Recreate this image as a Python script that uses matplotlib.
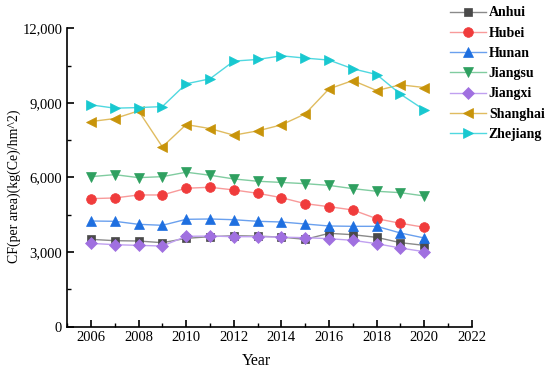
import matplotlib
matplotlib.use("Agg")
import matplotlib.pyplot as plt
from matplotlib.ticker import MultipleLocator, FuncFormatter

plt.rcParams['font.family'] = ['Liberation Serif', 'DejaVu Serif']

years = list(range(2006, 2021))
anhui = [3510, 3457, 3443, 3376, 3550, 3617, 3657, 3640, 3600, 3510, 3752, 3698, 3590, 3376, 3268]
hubei = [5147, 5175, 5295, 5295, 5565, 5605, 5497, 5363, 5187, 4945, 4824, 4691, 4341, 4156, 3995]
hunan = [4248, 4236, 4115, 4075, 4316, 4329, 4300, 4236, 4208, 4128, 4047, 4034, 4034, 3765, 3564]
jiangsu = [6032, 6113, 5992, 6032, 6210, 6089, 5940, 5847, 5800, 5750, 5680, 5550, 5444, 5388, 5255]
jiangxi = [3349, 3295, 3268, 3242, 3631, 3644, 3617, 3617, 3600, 3577, 3537, 3470, 3336, 3161, 3013]
shanghai = [8248, 8369, 8678, 7229, 8127, 7966, 7700, 7873, 8114, 8557, 9564, 9898, 9496, 9725, 9617]
zhejiang = [8920, 8786, 8810, 8850, 9766, 9967, 10680, 10745, 10893, 10800, 10720, 10370, 10140, 9350, 8718]

names = ["Anhui", "Hubei", "Hunan", "Jiangsu", "Jiangxi", "Shanghai", "Zhejiang"]
data = [anhui, hubei, hunan, jiangsu, jiangxi, shanghai, zhejiang]
mcolors = ["#4a4a4a", "#f03c3c", "#1e6fe0", "#2fa060", "#a070e0", "#c8940a", "#18c8d0"]
lcolors = ["#8a8a8a", "#f89a9a", "#6aa0ee", "#80cca0", "#c0a0f0", "#e0bc60", "#50d8e0"]
markers = ["s", "o", "^", "v", "D", "<", ">"]
msizes = [6, 7, 7, 7, 6, 7.5, 7.5]

fig = plt.figure(figsize=(5.5, 3.72), dpi=100)
ax = fig.add_axes([0.122, 0.122, 0.736, 0.802])

for n, d, mc, lc, m, ms in zip(names, data, mcolors, lcolors, markers, msizes):
    ax.plot(years, d, color=lc, lw=1.0, marker=m, markersize=ms,
            markerfacecolor=mc, markeredgecolor=mc, markeredgewidth=0.5, label=n)

ax.set_xlim(2005, 2022)
ax.set_ylim(0, 12000)
ax.xaxis.set_major_locator(MultipleLocator(2))
ax.xaxis.set_minor_locator(MultipleLocator(1))
ax.yaxis.set_major_locator(MultipleLocator(3000))
ax.yaxis.set_minor_locator(MultipleLocator(1500))
ax.yaxis.set_major_formatter(FuncFormatter(lambda v, p: f"{int(v):,}"))
ax.set_xticks(range(2006, 2023, 2))
ax.spines['top'].set_visible(False)
ax.spines['right'].set_visible(False)
for s in ['left', 'bottom']:
    ax.spines[s].set_linewidth(1.2)
ax.tick_params(which='major', direction='in', length=5, width=1.2, labelsize=10.5)
ax.tick_params(which='minor', direction='in', length=3, width=1.0)
ax.set_xlabel("Year", fontsize=11.5)
ax.set_ylabel("CF(per area)(kg(Ce)/hm^2)", fontsize=10)
ax.xaxis.set_label_coords(0.469, -0.09)
ax.yaxis.set_label_coords(-0.115, 0.47)

leg = fig.legend(loc='upper left', bbox_to_anchor=(0.813, 0.99), frameon=False,
                 prop={'weight': 'bold', 'size': 10}, handlelength=2.6,
                 labelspacing=0.52, handletextpad=0.2, borderpad=0.2,
                 borderaxespad=0.0)

fig.savefig("out.png", dpi=100)
